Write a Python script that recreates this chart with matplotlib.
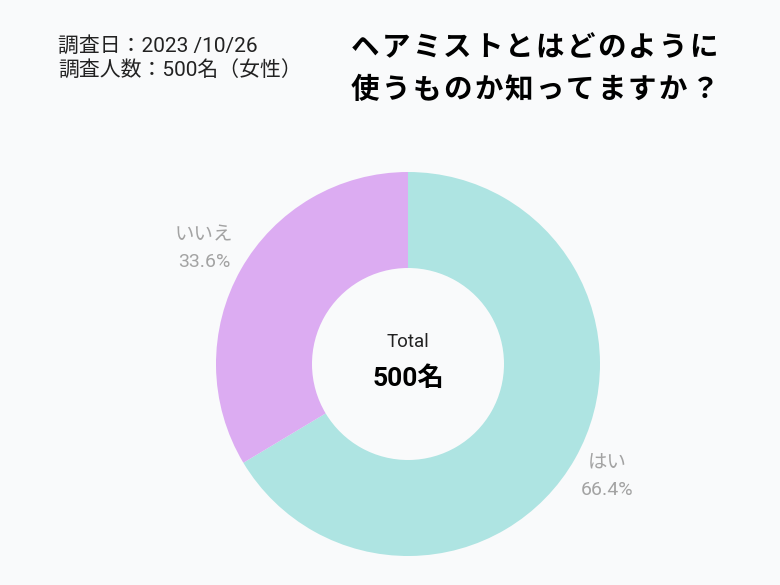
import matplotlib
matplotlib.use("Agg")
import matplotlib.pyplot as plt

plt.rcParams['font.family'] = ['Roboto', 'Noto Sans CJK JP', 'DejaVu Sans']

categories = ["はい", "いいえ"]
values = [66.4, 33.6]
colors = ["#aee4e2", "#dcacf2"]
total_label = "500名"
title_lines = ["ヘアミストとはどのように", "使うものか知ってますか？"]
info = "調査日：2023 /10/26\n調査人数：500名（女性）"

W, H = 780, 585
fig = plt.figure(figsize=(W / 100, H / 100), dpi=100)
bg = "#f9fafb"
fig.patch.set_facecolor(bg)

cx, cy, r = 408, 364, 192
ax = fig.add_axes([(cx - r) / W, 1 - (cy + r) / H, 2 * r / W, 2 * r / H])
ax.set_facecolor(bg)
ax.pie(values, colors=colors, startangle=90, counterclock=False,
       wedgeprops=dict(width=0.5, edgecolor="none"), radius=1.0)
ax.set_xlim(-1, 1)
ax.set_ylim(-1, 1)
ax.set_aspect("equal")
ax.axis("off")

gray = "#a3a3a3"
label_pos = [(607, 463), (204, 235)]
for cat, v, (x, y) in zip(categories, values, label_pos):
    fig.text(x / W, 1 - y / H, cat, color=gray, fontsize=14, ha="center", va="center",
             family=['Noto Sans CJK JP'])
    fig.text(x / W, 1 - (y + 27) / H, f"{v:.1f}%", color=gray, fontsize=14, ha="center", va="center")

fig.text(cx / W, 1 - 342 / H, "Total", fontsize=13.5, ha="center", va="center", color="#222222")
fig.text(cx / W, 1 - 379 / H, total_label, fontsize=19, fontweight="bold", ha="center", va="center", color="#000000")

fig.text(58 / W, 1 - 58 / H, info, fontsize=15, ha="left", va="center", linespacing=1.25, color="#222222")

# title with letter spacing
pitch = 30.8
for li, line in enumerate(title_lines):
    y = 48 + li * 42
    for ci, ch in enumerate(line):
        fig.text((352 + ci * pitch + 13) / W, 1 - y / H, ch, fontsize=20.5, fontweight="bold",
                 ha="center", va="center", color="#000000", family=['Noto Sans CJK JP'])

fig.savefig("out.png", dpi=100, facecolor=bg)
